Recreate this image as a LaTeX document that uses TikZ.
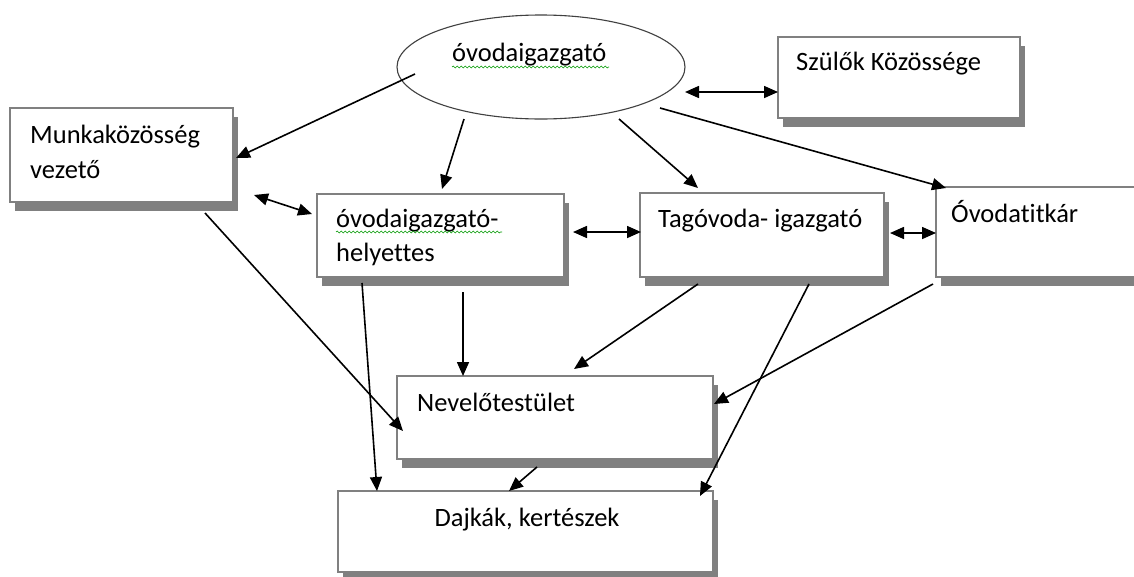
\documentclass[tikz,border=0pt]{standalone}
\usepackage{fontspec}
\setmainfont{Carlito}[Ligatures={NoCommon}]
\usetikzlibrary{shadows,arrows.meta,decorations.pathmorphing,shapes.geometric}
\begin{document}
\begin{tikzpicture}[x=1pt,y=-1pt,
  box/.style={draw=black!50,line width=1.5pt,fill=white,inner sep=0pt,outer sep=0pt,anchor=north west,
    drop shadow={shadow xshift=5pt,shadow yshift=-9pt,fill=black!50,opacity=1}},
  txt/.style={inner sep=0pt,anchor=base west,font=\fontsize{26.5}{31}\selectfont},
  arr/.style={line width=1.6pt,-{Triangle[length=14pt,width=12pt]}},
  darr/.style={line width=1.6pt,{Triangle[length=14pt,width=12pt]}-{Triangle[length=14pt,width=12pt]}},
  squig/.style={draw=green!60!black,line width=0.6pt,decorate,decoration={snake,amplitude=0.9pt,segment length=4pt}}]
\clip (0,0) rectangle (1134,576);
\fill[white] (0,0) rectangle (1134,576);
% ellipse
\node[draw=black!75,line width=1.1pt,ellipse,minimum width=288pt,minimum height=104pt,inner sep=0pt] (ig) at (541,67) {};
\node[txt] (igt) at (452,61) {óvodaigazgató};
\draw[squig] (452,67) -- (609,67);
% boxes
\node[box,minimum width=242pt,minimum height=81pt] (szul) at (778,37) {};
\node[txt] (szult) at (796,70) {Szülők Közössége};
\node[box,minimum width=223pt,minimum height=94pt] (munka) at (10,108) {};
\node[txt] (munkaA) at (30,143) {Munkaközösség};
\node[txt] (munkaB) at (30,178) {vezető};
\node[box,minimum width=247pt,minimum height=83pt] (hely) at (317,194) {};
\node[txt] (helyA) at (336,227) {óvodaigazgató-};
\draw[squig] (336,232) -- (502,232);
\node[txt] (helyB) at (336,261) {helyettes};
\node[box,minimum width=244pt,minimum height=84pt] (tag) at (640,193) {};
\node[txt] (tagt) at (658,227) {Tagóvoda- igazgató};
\node[box,minimum width=240pt,minimum height=90pt] (titk) at (936,187) {};
\node[txt] (titkt) at (951,222) {Óvodatitkár};
\node[box,minimum width=316pt,minimum height=83pt] (nev) at (397,376) {};
\node[txt] (nevt) at (417,411) {Nevelőtestület};
\node[box,minimum width=375pt,minimum height=81pt] (dajk) at (338,491) {};
\node[txt,anchor=base] (dajkt) at (527,526) {Dajkák, kertészek};
% connector ends
\coordinate (a1) at (415,74);  \coordinate (b1) at (236,158);
\coordinate (a2) at (464,119); \coordinate (b2) at (442,189);
\coordinate (a3) at (619,119); \coordinate (b3) at (698,188);
\coordinate (a4) at (660,108); \coordinate (b4) at (946,188);
\coordinate (a5) at (685,92);  \coordinate (b5) at (778,92);
\coordinate (a6) at (254,195); \coordinate (b6) at (312,214);
\coordinate (a7) at (573,232); \coordinate (b7) at (641,232);
\coordinate (a8) at (890,233); \coordinate (b8) at (936,233);
\coordinate (a9) at (205,213); \coordinate (b9) at (403,431);
\coordinate (a10) at (362,283); \coordinate (b10) at (377,491);
\coordinate (a11) at (463,292); \coordinate (b11) at (463,376);
\coordinate (a12) at (698,284); \coordinate (b12) at (574,369);
\coordinate (a13) at (809,284); \coordinate (b13) at (700,496);
\coordinate (a14) at (933,284); \coordinate (b14) at (714,404);
\coordinate (a15) at (537,467); \coordinate (b15) at (509,491);
\draw[arr] (a1) -- (b1);
\draw[arr] (a2) -- (b2);
\draw[arr] (a3) -- (b3);
\draw[arr] (a4) -- (b4);
\draw[darr] (a5) -- (b5);
\draw[darr] (a6) -- (b6);
\draw[darr] (a7) -- (b7);
\draw[darr] (a8) -- (b8);
\draw[arr] (a9) -- (b9);
\draw[arr] (a10) -- (b10);
\draw[arr] (a11) -- (b11);
\draw[arr] (a12) -- (b12);
\draw[arr] (a13) -- (b13);
\draw[arr] (a14) -- (b14);
\draw[arr] (a15) -- (b15);
\end{tikzpicture}
\end{document}
